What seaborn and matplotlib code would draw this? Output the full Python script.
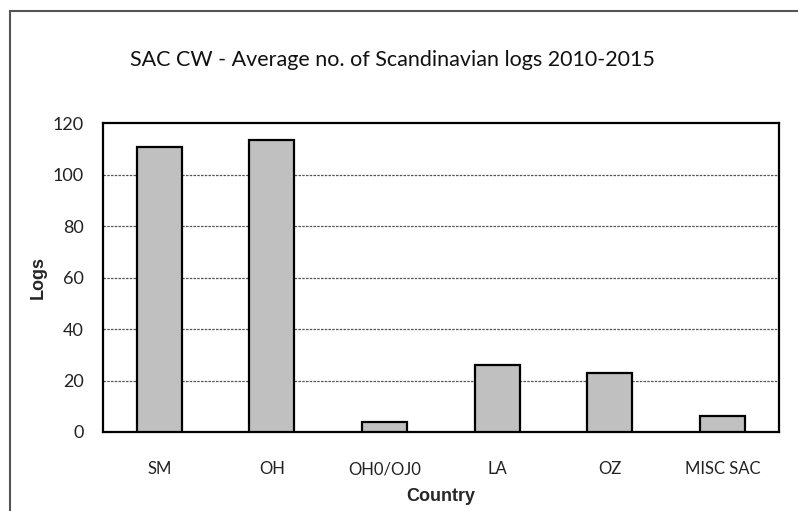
import numpy as np
import pandas as pd
import matplotlib
matplotlib.use("Agg")
import matplotlib.pyplot as plt
import seaborn as sns
from matplotlib.patches import Rectangle

countries = ["SM", "OH", "OH0/OJ0", "LA", "OZ", "MISC SAC"]
logs = [110.9, 113.6, 3.9, 26.0, 22.9, 6.3]
y_ticks = [0, 20, 40, 60, 80, 100, 120]

df = pd.DataFrame({"Country": countries, "Logs": logs})

sns.set_style("white")
plt.rcParams["font.family"] = ["Lato", "DejaVu Sans"]

fig = plt.figure(figsize=(7.98, 5.11), dpi=100)
ax = fig.add_axes([0.129, 0.1546, 0.847, 0.6044])

sns.barplot(
    data=df,
    x="Country",
    y="Logs",
    color="#c0c0c0",
    saturation=1,
    edgecolor="black",
    linewidth=1.6,
    width=0.4,
    ax=ax,
    zorder=3
)

ax.set_ylim(0, 120)
ax.set_xlim(-0.5, len(countries) - 0.5)
ax.set_yticks(y_ticks)
ax.set_yticklabels([str(t) for t in y_ticks], fontsize=13, color="#222222")

# category labels centred, ticks between categories
ax.set_xticks(np.arange(-0.5, len(countries)), labels=[""] * (len(countries) + 1))
ax.set_xticks(np.arange(len(countries)), labels=countries, minor=True)
ax.tick_params(axis="x", which="major", direction="out", length=6, width=1.2, color="black")
ax.tick_params(axis="x", which="minor", length=0, pad=21, labelsize=12, labelcolor="#222222")
ax.tick_params(axis="y", direction="out", length=6, width=1.2, color="black", pad=8)

for y in y_ticks[1:-1]:
    ax.axhline(y, color="#555555", linestyle=(0, (2, 1)), linewidth=0.9, zorder=1)

for s in ax.spines.values():
    s.set_visible(True)
    s.set_color("black")
    s.set_linewidth(1.6)

ax.set_xlabel("Country", fontsize=13, fontweight="bold", family=["Liberation Sans", "DejaVu Sans"], labelpad=8)
ax.set_ylabel("Logs", fontsize=13, fontweight="bold", family=["Liberation Sans", "DejaVu Sans"], labelpad=4)

fig.text(392 / 798, 1 - 60 / 511, "SAC CW - Average no. of Scandinavian logs 2010-2015",
         ha="center", va="center", fontsize=15.5, color="#111111")

# outer chart border (right and bottom edges run off the picture)
fig.patches.append(Rectangle((9.5 / 798, -0.1), 1.2, 1.1 - 11 / 511, transform=fig.transFigure,
                             fill=False, edgecolor="#555555", linewidth=1.5))

fig.savefig("out.png", dpi=100)
